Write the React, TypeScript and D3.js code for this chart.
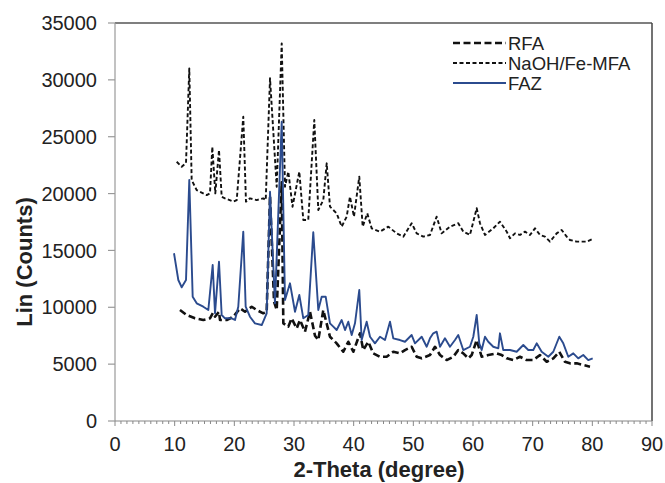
import React from "react";
import * as d3 from "d3";

// ---- Data (2-Theta in degrees, intensity in counts) ----
const rfaTheta = [10.89, 12.02, 13.41, 14.8, 15.92, 16.42, 16.76, 17.43, 17.6, 18.72, 19.83, 20.95, 21.79, 22.91, 23.75, 24.85, 25.42, 25.98, 26.65, 27.1, 27.94, 28.21, 29.05, 29.61, 30.45, 31.0, 31.84, 32.68, 33.52, 34.07, 34.91, 36.03, 37.15, 38.26, 39.1, 39.94, 41.06, 41.61, 42.45, 43.29, 44.41, 45.53, 46.64, 47.76, 48.6, 49.72, 50.56, 51.4, 52.79, 53.63, 54.47, 55.59, 56.7, 57.53, 58.37, 59.21, 59.78, 60.62, 61.45, 62.56, 63.97, 64.81, 65.65, 66.75, 67.87, 68.99, 70.1, 71.23, 72.35, 73.46, 74.46, 75.41, 76.25, 77.38, 78.48, 79.61];
const rfaCounts = [9760, 9320, 9030, 8880, 9030, 9500, 9170, 9600, 8880, 8880, 9170, 9910, 9610, 10050, 9760, 9470, 9600, 19800, 10500, 9760, 21000, 8590, 8300, 9030, 8150, 8880, 7850, 9610, 7500, 7120, 9760, 7410, 6830, 6090, 6970, 6090, 7710, 6240, 6970, 5950, 5650, 5650, 6090, 5950, 6240, 6530, 5650, 5510, 5800, 6530, 5800, 5360, 5650, 6240, 5950, 5510, 5800, 7120, 5650, 5800, 5950, 5800, 5510, 5360, 5650, 5360, 5360, 5800, 5210, 5510, 6090, 5210, 5070, 5070, 4920, 4780];

const mfaTheta = [10.34, 11.18, 11.9, 12.45, 12.85, 13.69, 15.37, 15.92, 16.31, 16.81, 17.43, 17.88, 18.43, 19.83, 20.4, 21.5, 21.95, 22.62, 23.75, 24.85, 25.26, 25.98, 27.1, 27.94, 28.49, 29.05, 29.75, 30.89, 31.56, 32.39, 33.4, 34.07, 34.91, 35.48, 36.03, 37.15, 37.99, 38.83, 39.38, 40.05, 40.94, 41.51, 42.28, 43.02, 44.41, 45.8, 47.21, 48.32, 49.72, 50.56, 51.67, 52.79, 53.91, 54.75, 56.14, 57.53, 58.37, 59.49, 60.62, 61.17, 62.01, 63.4, 64.52, 65.65, 66.2, 67.04, 67.87, 68.71, 69.55, 70.39, 71.23, 72.06, 72.9, 74.02, 74.86, 75.7, 76.25, 77.38, 78.21, 79.05, 79.89];
const mfaCounts = [22800, 22360, 22690, 31000, 21190, 20300, 19870, 20020, 24120, 20020, 23830, 19720, 19580, 19290, 19430, 26760, 19290, 19580, 19430, 19580, 19430, 30140, 20600, 33210, 20600, 21930, 18840, 21930, 17680, 17680, 26470, 18560, 19430, 22660, 18850, 18260, 17090, 17970, 19730, 17970, 21490, 17090, 18260, 16940, 16650, 17090, 16500, 16210, 17390, 16500, 16210, 16360, 17970, 16500, 17090, 17390, 16650, 16360, 18710, 17390, 16360, 16940, 17530, 16650, 16070, 16500, 16360, 16650, 16360, 16940, 16360, 16210, 15770, 16500, 16800, 16210, 15920, 15770, 15770, 15770, 15970];

const fazTheta = [9.89, 10.61, 11.18, 11.9, 12.45, 13.02, 13.69, 14.8, 15.64, 16.37, 16.76, 17.43, 17.88, 18.43, 19.56, 20.11, 20.66, 21.5, 21.9, 22.62, 23.46, 24.59, 25.42, 25.98, 26.81, 27.94, 28.49, 29.33, 30.17, 30.89, 31.56, 32.39, 33.23, 34.07, 34.64, 35.31, 36.03, 36.59, 37.15, 37.99, 38.55, 39.1, 39.67, 40.22, 40.94, 41.34, 42.18, 42.74, 43.57, 44.41, 45.25, 46.09, 46.64, 47.76, 48.6, 49.72, 50.28, 51.4, 52.24, 52.79, 53.34, 53.91, 54.47, 55.3, 56.14, 56.98, 57.53, 58.37, 59.49, 60.05, 60.62, 61.05, 61.45, 62.01, 62.56, 63.4, 64.24, 64.52, 65.07, 66.2, 67.32, 68.43, 69.27, 70.1, 70.67, 71.51, 72.62, 73.46, 74.46, 75.13, 75.97, 76.81, 77.64, 78.48, 79.32, 80.06];
const fazCounts = [14750, 12400, 11760, 12400, 21190, 10930, 10350, 10050, 9760, 13720, 9470, 14010, 9320, 9030, 9030, 8880, 10050, 16650, 10050, 9170, 8590, 8440, 9470, 20160, 10350, 26320, 10640, 12110, 9610, 11080, 9030, 9320, 16600, 9760, 10930, 10930, 8590, 8300, 8000, 8880, 8000, 8730, 7560, 8590, 11520, 7120, 8730, 7410, 6830, 7410, 7120, 8730, 7270, 7120, 6970, 7560, 6830, 7410, 6530, 7270, 7710, 7850, 6530, 7270, 6530, 7120, 7560, 6240, 6530, 7410, 9320, 6830, 6240, 7410, 6970, 6530, 6390, 7710, 6240, 6240, 6090, 6680, 6240, 6240, 6830, 6090, 5650, 6090, 7410, 6830, 5650, 5950, 5510, 5800, 5360, 5510];

const seriesNames = ["RFA", "NaOH/Fe-MFA", "FAZ"];
const xTicks = [0, 10, 20, 30, 40, 50, 60, 70, 80, 90];
const yTicks = [0, 5000, 10000, 15000, 20000, 25000, 30000, 35000];

const W = 665;
const H = 483;
const M = { left: 115, right: 652, top: 23, bottom: 421 };
const FONT = "'Liberation Sans', Arial, sans-serif";

export default function App() {
  const x = d3.scaleLinear().domain([0, 90]).range([M.left, M.right]);
  const y = d3.scaleLinear().domain([0, 35000]).range([M.bottom, M.top]);
  const line = d3
    .line<[number, number]>()
    .x((d) => x(d[0]))
    .y((d) => y(d[1]));

  const zip = (a: number[], b: number[]) => a.map((t, i) => [t, b[i]] as [number, number]);
  const styles = [
    { stroke: "#111", width: 2.6, dash: "7,3.5" },
    { stroke: "#111", width: 1.9, dash: "4,2.5" },
    { stroke: "#2b4b8e", width: 1.9, dash: "" },
  ];
  const data = [zip(rfaTheta, rfaCounts), zip(mfaTheta, mfaCounts), zip(fazTheta, fazCounts)];
  const minor = d3.range(0, 91, 1);

  return (
    <svg width={W} height={H} style={{ position: "absolute", left: 0, top: 0, background: "#fff" }} fontFamily={FONT}>
      <rect x={0} y={0} width={W} height={H} fill="#fff" />
      {/* frame top/right */}
      <line x1={M.left} x2={M.right} y1={M.top} y2={M.top} stroke="#555" strokeWidth={1.5} />
      <line x1={M.right} x2={M.right} y1={M.top} y2={M.bottom} stroke="#444" strokeWidth={1.5} />
      {/* y axis */}
      <line x1={M.left} x2={M.left} y1={M.top} y2={M.bottom} stroke="#999" strokeWidth={1.2} />
      {yTicks.map((t) => (
        <g key={"y" + t}>
          <line x1={M.left - 7} x2={M.left} y1={y(t)} y2={y(t)} stroke="#999" strokeWidth={1.2} />
          <text x={97} y={y(t)} dy="0.36em" textAnchor="end" fontSize={20} fill="#222">
            {t}
          </text>
        </g>
      ))}
      {/* x axis */}
      <line x1={M.left} x2={M.right} y1={M.bottom} y2={M.bottom} stroke="#888" strokeWidth={1.2} />
      {minor.map((t) => (
        <line key={"m" + t} x1={x(t)} x2={x(t)} y1={M.bottom} y2={M.bottom + (t % 10 === 0 ? 5 : 3)} stroke="#888" strokeWidth={1} />
      ))}
      {xTicks.map((t) => (
        <text key={"x" + t} x={x(t)} y={451} textAnchor="middle" fontSize={20} fill="#222">
          {t}
        </text>
      ))}
      {/* axis titles */}
      <text x={379} y={477} textAnchor="middle" fontSize={22} fontWeight="bold" fill="#222">
        2-Theta (degree)
      </text>
      <text transform="translate(32,262) rotate(-90)" textAnchor="middle" fontSize={22} fontWeight="bold" fill="#222">
        Lin (Counts)
      </text>
      {/* series */}
      {data.map((d, i) => (
        <path
          key={seriesNames[i]}
          d={line(d) || ""}
          fill="none"
          stroke={styles[i].stroke}
          strokeWidth={styles[i].width}
          strokeDasharray={styles[i].dash || undefined}
          strokeLinejoin="round"
        />
      ))}
      {/* legend */}
      {seriesNames.map((n, i) => (
        <g key={"lg" + n} transform={`translate(0,${43 + i * 20})`}>
          <line x1={453} x2={506} y1={0} y2={0} stroke={styles[i].stroke} strokeWidth={styles[i].width} strokeDasharray={styles[i].dash || undefined} />
          <text x={508} y={0} dy="0.36em" fontSize={18.5} fill="#222">
            {n}
          </text>
        </g>
      ))}
    </svg>
  );
}
